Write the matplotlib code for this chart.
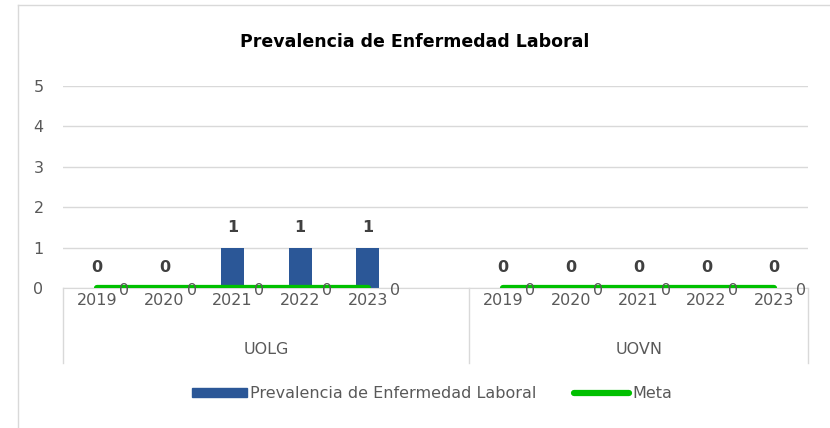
import matplotlib.pyplot as plt
import matplotlib.patheffects as pe
from matplotlib.patches import Patch
from matplotlib.lines import Line2D

# data
units = ["UOLG", "UOVN"]
years = ["2019", "2020", "2021", "2022", "2023"]
prevalencia_uolg = [0, 0, 1, 1, 1]
prevalencia_uovn = [0, 0, 0, 0, 0]
meta_uolg = [0, 0, 0, 0, 0]
meta_uovn = [0, 0, 0, 0, 0]

BAR_COLOR = "#2B5797"
LINE_COLOR = "#00C000"
TXT = "#595959"
GRID = "#D9D9D9"

plt.rcParams["font.family"] = ["DejaVu Sans"]

fig = plt.figure(figsize=(8.3, 4.28), dpi=100)
ax = fig.add_axes([63 / 830, 1 - 288 / 428, 745 / 830, 202 / 428])

# one empty slot between the two units, like the excel chart
x_uolg = list(range(len(years)))
x_uovn = [len(years) + 1 + i for i in range(len(years))]

for xs, vals, metas in [(x_uolg, prevalencia_uolg, meta_uolg),
                        (x_uovn, prevalencia_uovn, meta_uovn)]:
    ax.bar(xs, vals, width=0.34, color=BAR_COLOR, zorder=2)
    ax.plot(xs, metas, color=LINE_COLOR, lw=4.5, solid_capstyle="round", zorder=3,
            path_effects=[pe.SimpleLineShadow(offset=(0, -1.5), shadow_color="gray", alpha=0.3),
                          pe.Normal()])
    for x, v in zip(xs, vals):
        ax.text(x, v + 0.5, str(v), ha="center", va="center", fontsize=11.5,
                fontweight="bold", color="#404040", zorder=4)
    for x, m in zip(xs, metas):
        ax.text(x + 0.4, m - 0.05, str(m), ha="center", va="center", fontsize=11.5,
                color=TXT, zorder=4)

ax.set_xlim(-0.5, 10.5)
ax.set_ylim(0, 5)
ax.set_yticks(range(6))
ax.tick_params(axis="y", length=0, labelsize=11.5, labelcolor=TXT, pad=14)
ax.set_xticks([])
ax.grid(axis="y", color=GRID, lw=1, zorder=0)
for s in ["top", "right", "left"]:
    ax.spines[s].set_visible(False)
ax.spines["bottom"].set_color(GRID)

# two-level category axis
trans = ax.get_xaxis_transform()
for xs in (x_uolg, x_uovn):
    for x, y in zip(xs, years):
        ax.text(x, -0.06, y, transform=trans, ha="center", va="center",
                fontsize=11.5, color=TXT)
ax.text(2.5, -0.305, units[0], transform=trans, ha="center", va="center",
        fontsize=11.5, color=TXT)
ax.text(8, -0.305, units[1], transform=trans, ha="center", va="center",
        fontsize=11.5, color=TXT)
for xb in (-0.5, 5.5, 10.5):
    ax.plot([xb, xb], [0, -0.37], transform=trans, color=GRID, lw=1, clip_on=False)

fig.text(0.5, 1 - 42 / 428, "Prevalencia de Enfermedad Laboral", ha="center",
         va="center", fontsize=12.5, fontweight="bold", color="black")

handles = [Patch(color=BAR_COLOR, label="Prevalencia de Enfermedad Laboral"),
           Line2D([0], [0], color=LINE_COLOR, lw=4.5, solid_capstyle="round", label="Meta")]
leg = fig.legend(handles=handles, loc="center", bbox_to_anchor=(432 / 830, 1 - 394 / 428),
                 ncol=2, frameon=False, fontsize=11.5, handlelength=3.4, handleheight=0.5,
                 handletextpad=0.2, columnspacing=2.4, labelcolor=TXT)

# chart border (left and top edges visible in the crop)
fig.add_artist(Line2D([18 / 830, 18 / 830], [0, 1 - 5 / 428], color=GRID, lw=1))
fig.add_artist(Line2D([18 / 830, 1], [1 - 5 / 428, 1 - 5 / 428], color=GRID, lw=1))

fig.savefig("out.png", dpi=100)
